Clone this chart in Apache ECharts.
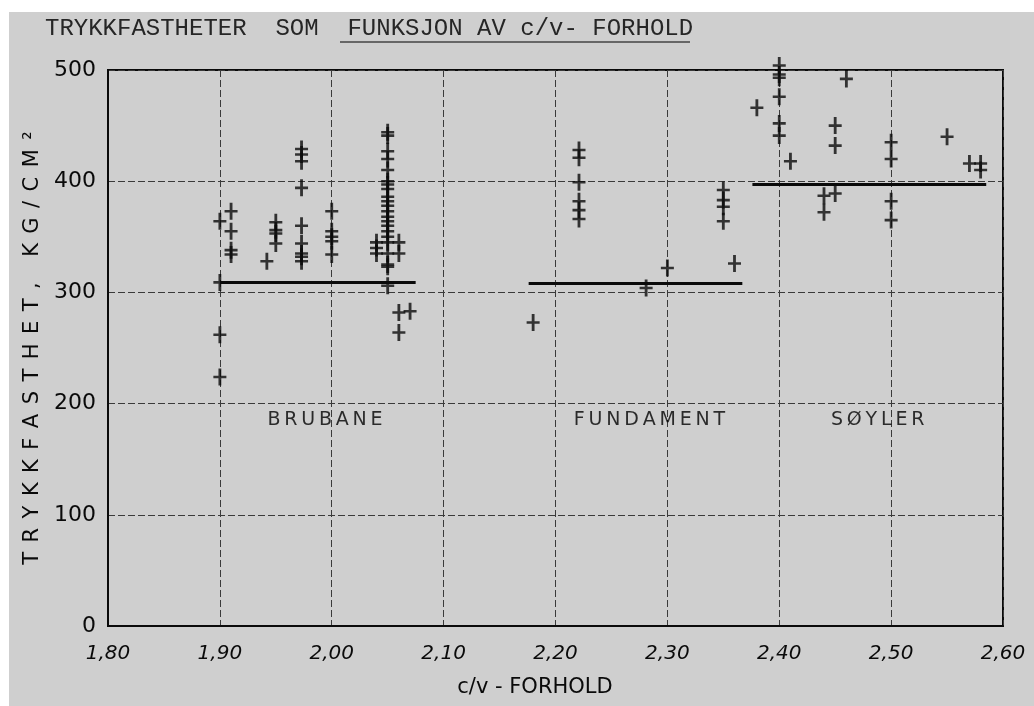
<!DOCTYPE html>
<html>
<head>
<meta charset="utf-8">
<script src="https://cdn.jsdelivr.net/npm/echarts@6/dist/echarts.min.js"></script>
<style>
html,body{margin:0;padding:0;background:#ffffff;}
#chart{width:1034px;height:706px;}
</style>
</head>
<body>
<div id="chart"></div>
<script>
// ---- data ----
const xTicks = [1.8, 1.9, 2.0, 2.1, 2.2, 2.3, 2.4, 2.5, 2.6];
const yTicks = [0, 100, 200, 300, 400, 500];

const brubane = [
  [1.90,364],[1.90,309],[1.90,262],[1.90,224],
  [1.91,373],[1.91,355],[1.91,338],[1.91,334],
  [1.942,328],
  [1.95,363],[1.95,356],[1.95,353],[1.95,344],
  [1.973,429],[1.973,424],[1.973,418],[1.973,394],[1.973,360],[1.973,344],[1.973,335],[1.973,332],[1.973,328],
  [2.00,373],[2.00,355],[2.00,350],[2.00,346],[2.00,334],
  [2.04,345],[2.04,340],[2.04,335],
  [2.05,444],[2.05,441],[2.05,427],[2.05,420],[2.05,410],[2.05,400],[2.05,397],[2.05,393],[2.05,386],
  [2.05,382],[2.05,378],[2.05,373],[2.05,368],[2.05,364],[2.05,360],[2.05,355],[2.05,350],[2.05,345],
  [2.05,335],[2.05,325],[2.05,323],[2.05,306],
  [2.06,345],[2.06,335],[2.06,282],[2.06,264],
  [2.07,283]
];
const fundament = [
  [2.18,273],
  [2.221,428],[2.221,421],[2.221,399],[2.221,382],[2.221,374],[2.221,366],
  [2.281,304],[2.30,322],
  [2.35,392],[2.35,383],[2.35,377],[2.35,364],
  [2.36,326]
];
const soyler = [
  [2.38,466],
  [2.40,504],[2.40,496],[2.40,493],[2.40,476],[2.40,452],[2.40,441],
  [2.41,418],
  [2.44,387],[2.44,372],
  [2.45,450],[2.45,432],[2.45,389],
  [2.46,492],
  [2.50,435],[2.50,420],[2.50,382],[2.50,365],
  [2.55,440],
  [2.57,416],[2.58,416],[2.58,410]
];
const brubaneMean = [[1.90,309],[2.075,309]];
const fundamentMean = [[2.176,308],[2.367,308]];
const soylerMean = [[2.376,397],[2.585,397]];

const groupNames = ['BRUBANE', 'FUNDAMENT', 'SØYLER'];
const groupLabelAt = [[1.994,185],[2.284,185],[2.488,185]];

const titleText = 'TRYKKFASTHETER  SOM  FUNKSJON AV c/v- FORHOLD';
const yTitle = 'TRYKKFASTHET, KG/CM²';
const xTitle = 'c/v - FORHOLD';

// ---- helpers ----
function spaced(s, sp){ return s.split('').join(sp); }
const plus = 'path://M-1.3,-8 L1.3,-8 L1.3,-1.2 L6,-1.2 L6,1.2 L1.3,1.2 L1.3,8 L-1.3,8 L-1.3,1.2 L-6,1.2 L-6,-1.2 L-1.3,-1.2 Z';
const ink = '#0a0a0a';
const hand = '"DejaVu Sans", sans-serif';

function pts(name, data){
  return {
    name, type:'scatter', data, symbol: plus, symbolSize:[13,17],
    itemStyle:{color:ink}, clip:false, z:5, silent:true
  };
}
function mean(name, data){
  return {
    name, type:'line', data, symbol:'none', clip:false,
    lineStyle:{color:ink, width:3}, z:4, silent:true
  };
}

const chart = echarts.init(document.getElementById('chart'), null, {renderer:'canvas'});
chart.setOption({
  backgroundColor:'#ffffff',
  animation:false,
  grid:{left:108, right:31, top:70, bottom:80, show:true, borderColor:ink, borderWidth:2, backgroundColor:'transparent'},
  xAxis:{
    type:'value', min:xTicks[0], max:xTicks[xTicks.length-1], interval:0.1,
    axisLine:{show:true, lineStyle:{color:ink, width:2}},
    axisTick:{show:false},
    axisLabel:{margin:18, fontSize:20, fontStyle:'italic', fontFamily:hand, color:ink,
      formatter:v=>v.toFixed(2).replace('.',',')},
    splitLine:{show:true, lineStyle:{color:'#3a3a3a', width:1, type:[7,3]}}
  },
  yAxis:{
    type:'value', min:yTicks[0], max:yTicks[yTicks.length-1], interval:100,
    axisLine:{show:true, lineStyle:{color:ink, width:2}},
    axisTick:{show:false},
    axisLabel:{margin:12, fontSize:22, fontFamily:hand, color:ink},
    splitLine:{show:true, lineStyle:{color:'#3a3a3a', width:1, type:[7,3]}},
    name: spaced(yTitle, '\u2005\u2009'), nameLocation:'middle', nameGap:60,
    nameTextStyle:{fontSize:21, fontFamily:hand, color:ink}
  },
  graphic:[
    {type:'rect', left:9, top:12, shape:{width:1025, height:694}, style:{fill:'#cfcfcf'}, z:-10, silent:true},
    {type:'text', left:45, top:17, style:{text:titleText, font:'24px "Liberation Mono", monospace', fill:'#262626'}, z:10},
    {type:'line', shape:{x1:340, y1:42, x2:690, y2:42}, style:{stroke:'#444444', lineWidth:1.5}, z:10},
    {type:'text', x:535, y:688, style:{text:xTitle, font:'21px "DejaVu Sans", sans-serif', fill:ink, align:'center', verticalAlign:'middle'}, z:10}
  ],
  series:[
    pts('Brubane', brubane),
    pts('Fundament', fundament),
    pts('Søyler', soyler),
    mean('Brubane middel', brubaneMean),
    mean('Fundament middel', fundamentMean),
    mean('Søyler middel', soylerMean),
    {
      name:'labels', type:'scatter', symbolSize:0, silent:true, z:6,
      data: groupNames.map((n,i)=>({name:n, value:groupLabelAt[i]})),
      label:{show:true, position:'inside', formatter:p=>spaced(p.name,'\u2009'),
        fontSize:19, fontFamily:hand, color:'#000000'}
    }
  ]
});
</script>
</body>
</html>
